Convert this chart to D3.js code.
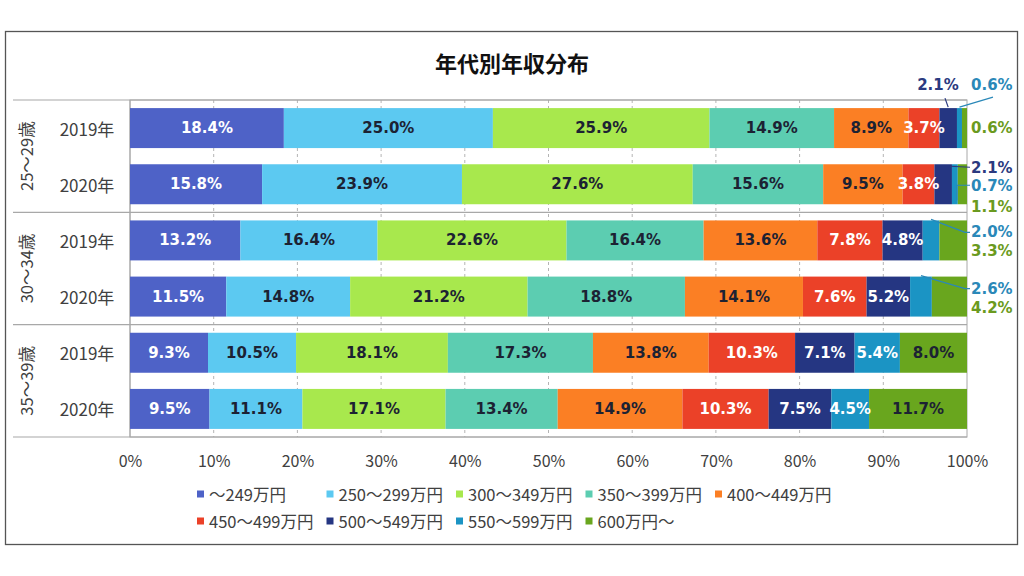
<!DOCTYPE html>
<html><head><meta charset="utf-8">
<script src="https://cdn.jsdelivr.net/npm/d3@7"></script>
<style>body{margin:0;background:#fff;} svg{display:block;}</style>
</head><body>
<svg id="c" width="1024" height="576"></svg>
<script>
// ---- data ----
const chartTitle = "年代別年収分布";
const ageGroups = ["25～29歳", "30～34歳", "35～39歳"];
const years = ["2019年", "2020年"];
const incomeBands = ["～249万円", "250～299万円", "300～349万円", "350～399万円", "400～449万円",
  "450～499万円", "500～549万円", "550～599万円", "600万円～"];
const age25to29_2019 = [18.4, 25.0, 25.9, 14.9, 8.9, 3.7, 2.1, 0.6, 0.6];
const age25to29_2020 = [15.8, 23.9, 27.6, 15.6, 9.5, 3.8, 2.1, 0.7, 1.1];
const age30to34_2019 = [13.2, 16.4, 22.6, 16.4, 13.6, 7.8, 4.8, 2.0, 3.3];
const age30to34_2020 = [11.5, 14.8, 21.2, 18.8, 14.1, 7.6, 5.2, 2.6, 4.2];
const age35to39_2019 = [9.3, 10.5, 18.1, 17.3, 13.8, 10.3, 7.1, 5.4, 8.0];
const age35to39_2020 = [9.5, 11.1, 17.1, 13.4, 14.9, 10.3, 7.5, 4.5, 11.7];
const xTickValues = [0, 10, 20, 30, 40, 50, 60, 70, 80, 90, 100];

// ---- styles ----
const colors = ["#4e62c7", "#5cc9f1", "#a8e84d", "#5ccdb1", "#fb7f24", "#eb4128", "#253682", "#1b94c4", "#69a61e"];
const labelColors = ["#ffffff", "#1c2233", "#1c2233", "#1c2233", "#1c2233", "#ffffff", "#ffffff", "#ffffff", "#1c2233"];
const outsideColors = {6: "#2b3a80", 7: "#2a88b8", 8: "#6a9a20"};
const JP = "'Noto Sans CJK JP','Noto Sans',sans-serif";
const LBL = "'DejaVu Sans',Verdana,sans-serif";

const rowValues = [age25to29_2019, age25to29_2020, age30to34_2019, age30to34_2020, age35to39_2019, age35to39_2020];
const rows = rowValues.map((vals, i) => {
  const o = {key: "r" + i, age: Math.floor(i / 2), year: i % 2};
  vals.forEach((v, j) => o[j] = v);
  return o;
});
const keys = incomeBands.map((d, i) => i);

const svg = d3.select("#c");
const L = 130, R = 967, T = 100, B = 437;

// outer border
svg.append("rect").attr("x", 5.5).attr("y", 31.5).attr("width", 1012).attr("height", 513)
  .attr("fill", "#fff").attr("stroke", "#555").attr("stroke-width", 1.3);

// title
svg.append("text").attr("x", 512).attr("y", 62).attr("text-anchor", "middle")
  .attr("dominant-baseline", "central").attr("font-family", JP).attr("font-weight", "bold")
  .attr("font-size", 22).attr("fill", "#111").text(chartTitle);

const x = d3.scaleLinear().domain([0, 1]).range([L, R]);
const y = d3.scaleBand().domain(rows.map(r => r.key)).range([T, B]).paddingInner(0.288).paddingOuter(0.144);

// gridlines
svg.append("g").selectAll("line").data(xTickValues.slice(1, -1)).join("line")
  .attr("x1", d => x(d / 100)).attr("x2", d => x(d / 100)).attr("y1", T).attr("y2", B)
  .attr("stroke", "#b4b4b4").attr("stroke-width", 1).attr("stroke-dasharray", "3,3");
// plot border
svg.append("rect").attr("x", L).attr("y", T).attr("width", R - L).attr("height", B - T)
  .attr("fill", "none").attr("stroke", "#a8a8a8");

// group separators (left category axis)
const groupBounds = [T];
for (let g = 1; g < ageGroups.length; g++) {
  const a = y("r" + (2 * g - 1)) + y.bandwidth(), b = y("r" + (2 * g));
  groupBounds.push((a + b) / 2);
}
groupBounds.push(B);
svg.append("g").selectAll("line").data(groupBounds).join("line")
  .attr("x1", 13).attr("x2", R).attr("y1", d => d).attr("y2", d => d)
  .attr("stroke", "#a8a8a8").attr("stroke-width", 1.2);
svg.append("line").attr("x1", L).attr("x2", L).attr("y1", T).attr("y2", B).attr("stroke", "#a8a8a8");

// stacked bars
const stack = d3.stack().keys(keys).offset(d3.stackOffsetExpand);
const series = stack(rows);
const gBars = svg.append("g");
series.forEach((s, si) => {
  gBars.append("g").attr("fill", colors[si]).selectAll("rect").data(s).join("rect")
    .attr("x", d => x(d[0])).attr("width", d => x(d[1]) - x(d[0]))
    .attr("y", d => y(d.data.key)).attr("height", y.bandwidth());
});

// outside labels spec: row index -> series
const outside = {0: [6, 7, 8], 1: [6, 7, 8], 2: [7, 8], 3: [7, 8]};

// inside labels
series.forEach((s, si) => {
  s.forEach((d, ri) => {
    if (outside[ri] && outside[ri].includes(si)) return;
    svg.append("text").attr("x", (x(d[0]) + x(d[1])) / 2).attr("y", y(d.data.key) + y.bandwidth() / 2)
      .attr("text-anchor", "middle").attr("dominant-baseline", "central")
      .attr("font-family", LBL).attr("font-weight", "bold").attr("font-size", 15)
      .attr("fill", labelColors[si]).text(d.data[si].toFixed(1) + "%");
  });
});

// outside labels with leaders
const fmt = v => v.toFixed(1) + "%";
function seg(ri, si) { const d = series[si][ri]; return {x0: x(d[0]), x1: x(d[1]), top: y(d.data.key), bot: y(d.data.key) + y.bandwidth(), v: d.data[si]}; }
const lx = R + 4;
function oLabel(tx, ty, si, v, anchor) {
  svg.append("text").attr("x", tx).attr("y", ty).attr("text-anchor", anchor || "start")
    .attr("dominant-baseline", "central").attr("font-family", LBL).attr("font-weight", "bold")
    .attr("font-size", 15).attr("fill", outsideColors[si]).text(fmt(v));
}
function leader(pts, si) {
  svg.append("path").attr("d", d3.line()(pts)).attr("fill", "none")
    .attr("stroke", outsideColors[si]).attr("stroke-width", 1.2);
}
// row 0
{
  const n = seg(0, 6), b = seg(0, 7), g = seg(0, 8);
  oLabel(lx - 33, n.top - 23, 6, n.v, "middle");
  leader([[(n.x0 + n.x1) / 2, n.top - 1], [lx - 26, n.top - 10]], 6);
  oLabel(lx, b.top - 23, 7, b.v);
  leader([[(b.x0 + b.x1) / 2, b.top - 1], [lx + 22, b.top - 11]], 7);
  oLabel(lx, (g.top + g.bot) / 2, 8, g.v);
}
// row 1
{
  const n = seg(1, 6), b = seg(1, 7), g = seg(1, 8);
  const cy = (n.top + n.bot) / 2;
  oLabel(lx, cy - 16, 6, n.v);
  leader([[n.x1 - 2, n.top + 2], [lx - 1, cy - 17]], 6);
  oLabel(lx, cy + 2, 7, b.v);
  leader([[lx - 1, cy + 1], [(b.x0 + b.x1) / 2 + 2, cy + 1], [(b.x0 + b.x1) / 2 + 2, cy + 16]], 7);
  oLabel(lx, cy + 23, 8, g.v);
}
// rows 2, 3
[2, 3].forEach(ri => {
  const b = seg(ri, 7), g = seg(ri, 8);
  const cy = (b.top + b.bot) / 2;
  oLabel(lx, cy - 8, 7, b.v);
  leader([[(b.x0 + b.x1) / 2, b.top - 1], [lx - 6, cy - 8], [lx - 1, cy - 8]], 7);
  oLabel(lx, cy + 11, 8, g.v);
});

// x axis
const axis = svg.append("g").attr("transform", `translate(0,${B})`)
  .call(d3.axisBottom(x).tickValues(xTickValues.map(v => v / 100)).tickFormat(d3.format(".0%")).tickSize(0));
axis.select(".domain").remove();
axis.selectAll("text").attr("y", 24).attr("dy", "0.35em").attr("font-family", JP).attr("font-size", 16).attr("fill", "#404040");

// category labels
svg.append("g").selectAll("text").data(rows).join("text")
  .attr("x", 87).attr("y", d => y(d.key) + y.bandwidth() / 2).attr("text-anchor", "middle")
  .attr("dominant-baseline", "central").attr("font-family", JP).attr("font-size", 17).attr("fill", "#404040")
  .text(d => years[d.year]);
svg.append("g").selectAll("text").data(ageGroups).join("text")
  .attr("transform", (d, i) => `translate(26,${(groupBounds[i] + groupBounds[i + 1]) / 2}) rotate(-90)`)
  .attr("text-anchor", "middle").attr("dominant-baseline", "central")
  .attr("font-family", JP).attr("font-size", 16.5).attr("fill", "#404040").text(d => d);

// legend
const legendRows = [[0, 1, 2, 3, 4], [5, 6, 7, 8]];
legendRows.forEach((items, r) => {
  const ly = 494 + r * 27;
  items.forEach((si, c) => {
    const lx0 = 197 + c * 129.5;
    svg.append("rect").attr("x", lx0).attr("y", ly - 3.5).attr("width", 7).attr("height", 7).attr("fill", colors[si]);
    svg.append("text").attr("x", lx0 + 12).attr("y", ly).attr("dominant-baseline", "central")
      .attr("font-family", JP).attr("font-size", 16.5).attr("fill", "#404040").text(incomeBands[si]);
  });
});
</script>
</body></html>
